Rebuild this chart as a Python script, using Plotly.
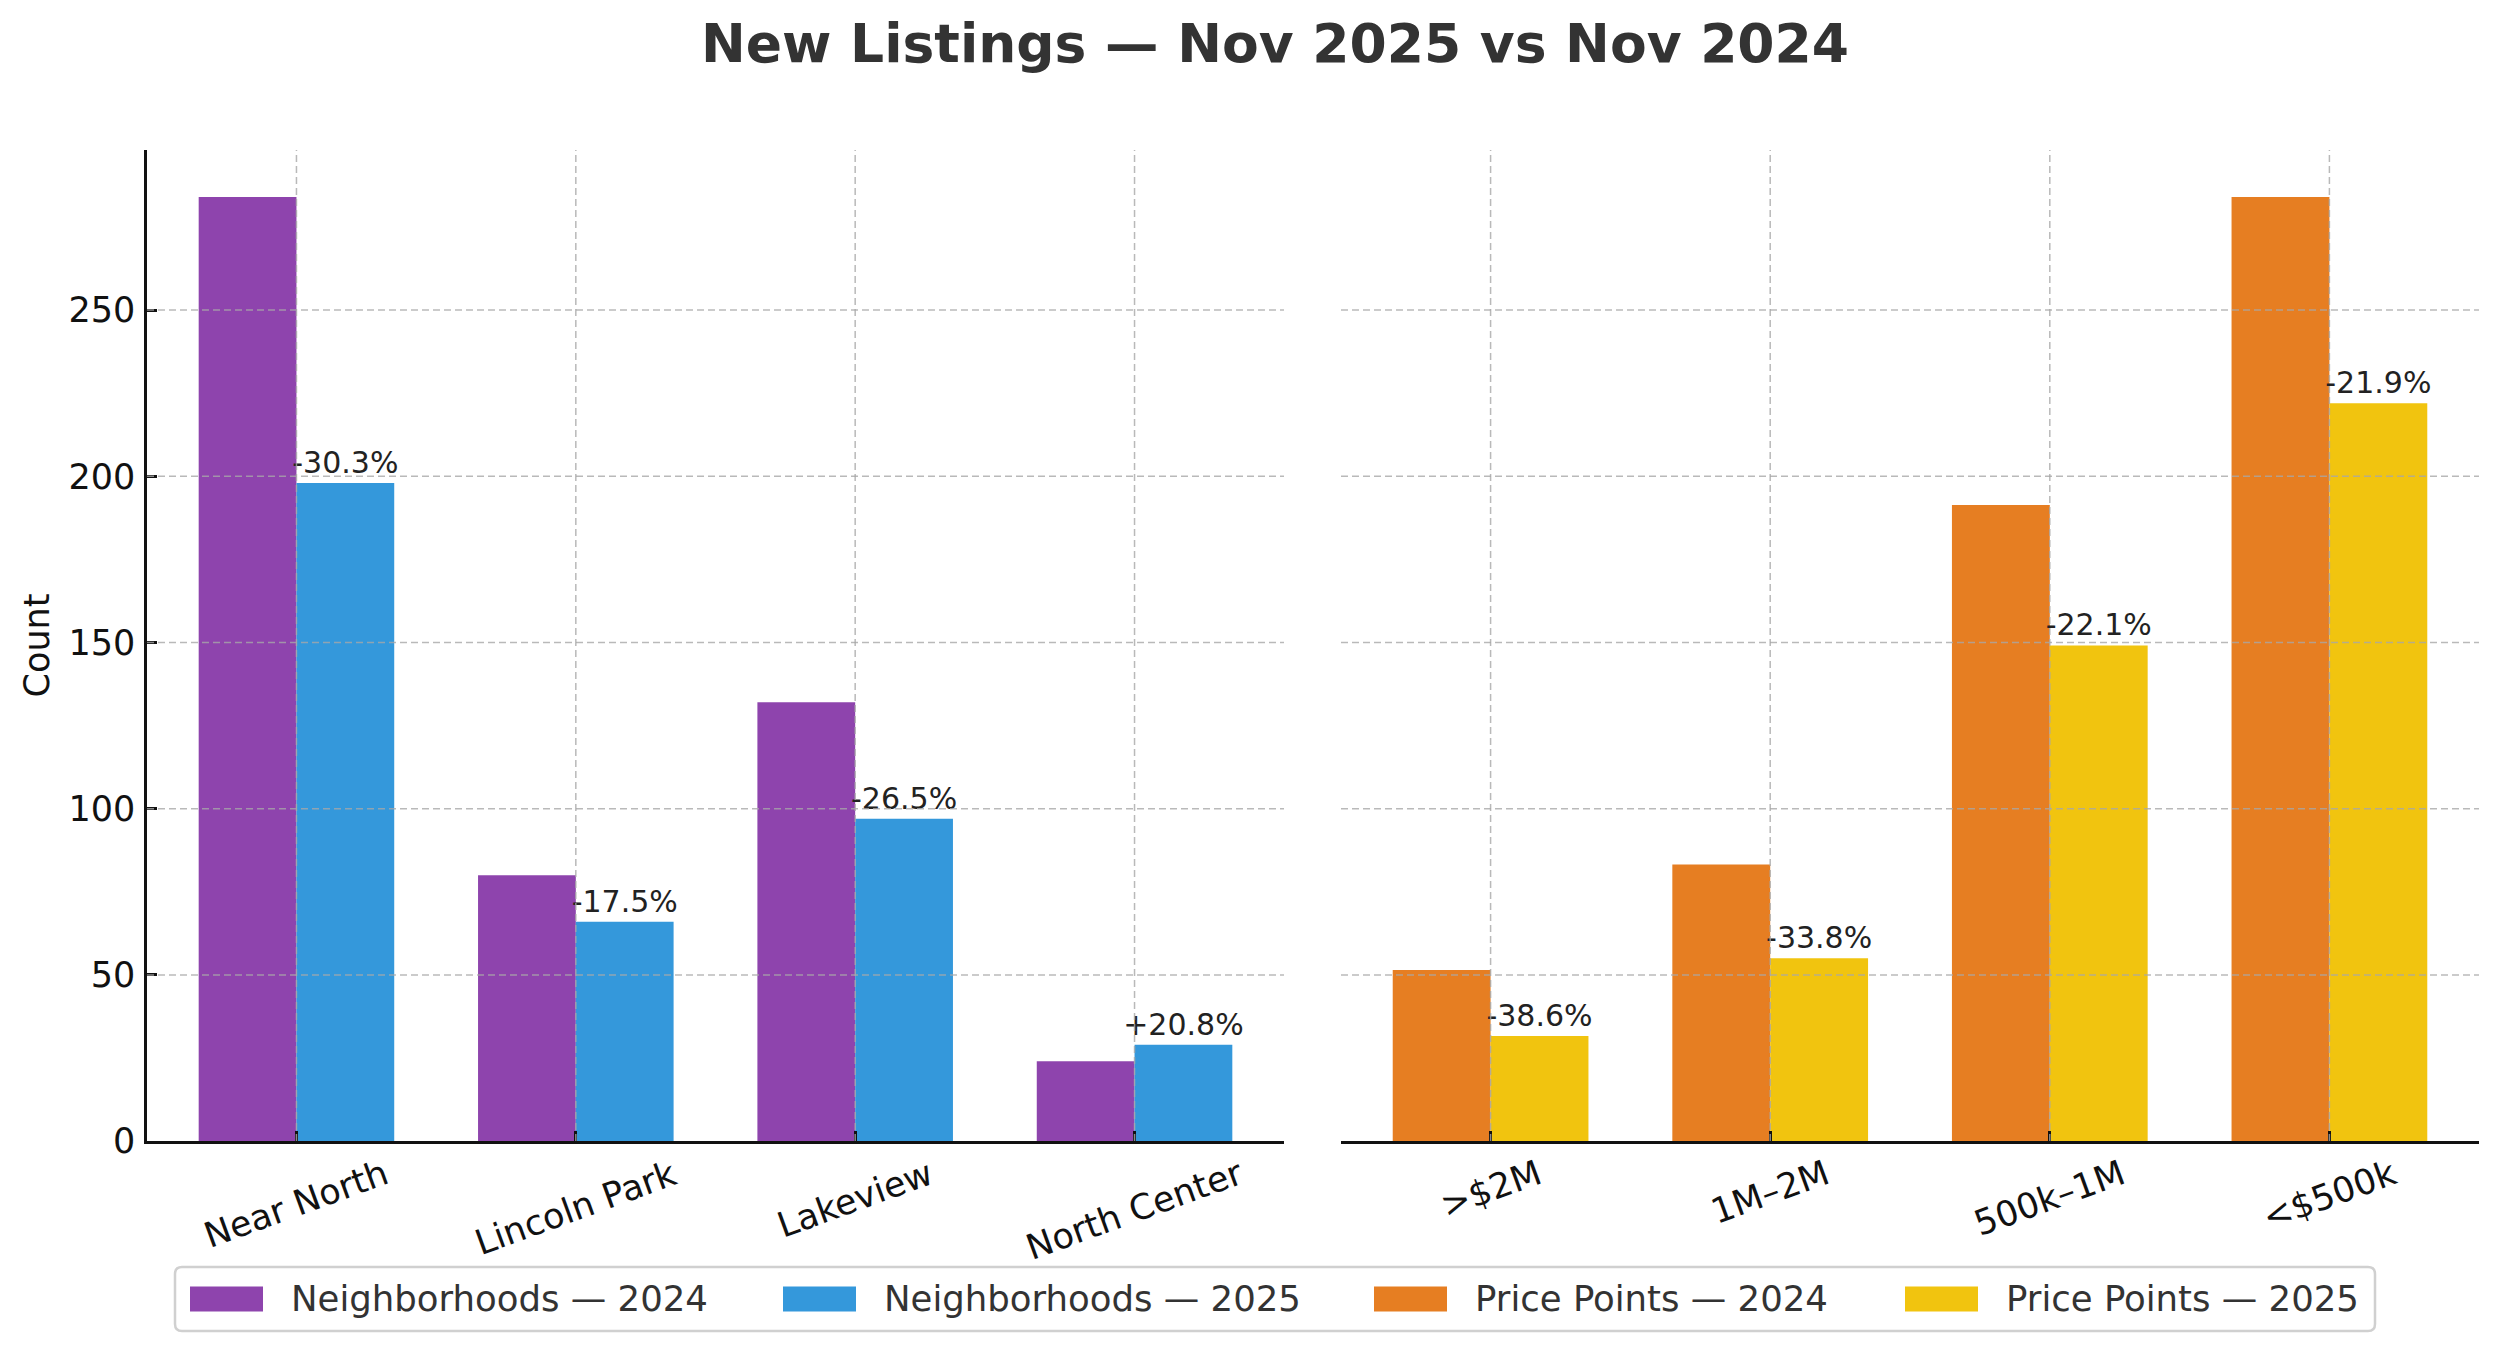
import plotly.graph_objects as go

# ---------------- data ----------------
neighborhoods = ["Near North", "Lincoln Park", "Lakeview", "North Center"]
nb_2024 = [284, 80, 132, 24]
nb_2025 = [198, 66, 97, 29]
nb_change = ["-30.3%", "-17.5%", "-26.5%", "+20.8%"]

price_points = [">$2M", "1M–2M", "500k–1M", "<$500k"]
pp_2024 = [51.5, 83.2, 191.4, 284]
pp_2025 = [31.6, 55.0, 149.1, 222]
pp_change = ["-38.6%", "-33.8%", "-22.1%", "-21.9%"]

y_ticks = [0, 50, 100, 150, 200, 250]
legend_names = ["Neighborhoods — 2024", "Neighborhoods — 2025",
                "Price Points — 2024", "Price Points — 2025"]
title_text = "New Listings — Nov 2025 vs Nov 2024"
y_title = "Count"

# ---------------- styles ----------------
C_PURPLE = "#8E44AD"
C_BLUE = "#3498DB"
C_ORANGE = "#E67E22"
C_YELLOW = "#F1C40F"
colors = [C_PURPLE, C_BLUE, C_ORANGE, C_YELLOW]
FONT = "DejaVu Sans"
OFFX = 8                     # page body margin of the browser
W, H = 2500 - 2 * OFFX, 1354
OFFY, SY = 9, 0.986          # observed vertical placement of the page in the photo
GRID = "rgba(168,168,168,0.8)"
TICK_SIZE = 35
LEG_SIZE = 35.5
PCT_SIZE = 30
LABEL_ANGLE = -20


def px2x(px):
    return (px - OFFX) / W


def px2y(py):
    return 1 - ((py - OFFY) / SY) / H


ymax = max(nb_2024 + nb_2025 + pp_2024 + pp_2025) * 1.05
xr = [-0.535, len(neighborhoods) - 1 + 0.535]

fig = go.Figure()

nx = list(range(len(neighborhoods)))
px_ = list(range(len(price_points)))

pct_font = dict(family=FONT, size=PCT_SIZE, color="#222222")
fig.add_trace(go.Bar(x=nx, y=nb_2024, marker_color=C_PURPLE, xaxis="x", yaxis="y",
                     name=legend_names[0], showlegend=False, marker_line_width=0))
fig.add_trace(go.Bar(x=nx, y=nb_2025, marker_color=C_BLUE, xaxis="x", yaxis="y",
                     name=legend_names[1], showlegend=False, marker_line_width=0,
                     text=nb_change, textposition="outside", constraintext="none",
                     cliponaxis=False, outsidetextfont=pct_font))
fig.add_trace(go.Bar(x=px_, y=pp_2024, marker_color=C_ORANGE, xaxis="x2", yaxis="y2",
                     name=legend_names[2], showlegend=False, marker_line_width=0))
fig.add_trace(go.Bar(x=px_, y=pp_2025, marker_color=C_YELLOW, xaxis="x2", yaxis="y2",
                     name=legend_names[3], showlegend=False, marker_line_width=0,
                     text=pp_change, textposition="outside", constraintext="none",
                     cliponaxis=False, outsidetextfont=pct_font))

ydom = [px2y(1143), px2y(151)]
xdom1 = [px2x(147), px2x(1284)]
xdom2 = [px2x(1341), px2x(2479)]

axis_common = dict(showgrid=False, zeroline=False, linecolor="#111111", linewidth=2.5,
                   ticks="inside", ticklen=10, tickwidth=2.5, tickcolor="#111111",
                   tickfont=dict(family=FONT, size=TICK_SIZE, color="#111111"))

fig.update_layout(
    width=W, height=H, autosize=False,
    margin=dict(l=0, r=0, t=0, b=0),
    paper_bgcolor="white", plot_bgcolor="white",
    barmode="group", bargap=0.3, bargroupgap=0,
    font=dict(family=FONT, color="#111111"),
    title=dict(text=title_text, x=px2x(1275), xanchor="center",
               y=px2y(44), yanchor="middle", yref="container",
               font=dict(family=FONT, size=53.5, color="#333333", weight="bold")),
    xaxis=dict(domain=xdom1, anchor="y", range=xr, tickvals=nx, showticklabels=False,
               showline=True, **axis_common),
    xaxis2=dict(domain=xdom2, anchor="y2", range=xr, tickvals=px_, showticklabels=False,
                showline=True, **axis_common),
    yaxis=dict(domain=ydom, anchor="x", range=[0, ymax], tickvals=y_ticks,
               showline=True, ticklabelstandoff=2,
               title=dict(text=y_title, standoff=9,
                          font=dict(family=FONT, size=TICK_SIZE, color="#111111")),
               **axis_common),
    yaxis2=dict(domain=ydom, anchor="x2", range=[0, ymax], matches="y", tickvals=y_ticks,
                showline=False, showticklabels=False, ticks="", showgrid=False,
                zeroline=False),
)

shapes = []
annotations = []

# gridlines drawn above bars (as in the reference)
for xa, ya, cats in (("x", "y", nx), ("x2", "y2", px_)):
    for v in y_ticks[1:]:
        shapes.append(dict(type="line", xref=f"{xa} domain", yref=ya, x0=0, x1=1, y0=v, y1=v,
                           line=dict(color=GRID, width=1.5, dash="7px,4px"), layer="above"))
    for c in cats:
        shapes.append(dict(type="line", xref=xa, yref=f"{ya} domain", x0=c, x1=c, y0=0, y1=1,
                           line=dict(color=GRID, width=1.5, dash="7px,4px"), layer="above"))

# rotated category labels centred under each tick
for xa, cats, labels in (("x", nx, neighborhoods), ("x2", px_, price_points)):
    for c, lab in zip(cats, labels):
        annotations.append(dict(x=c, xref=xa, y=px2y(1152), yref="paper", text=lab,
                                showarrow=False, textangle=LABEL_ANGLE, xanchor="center",
                                yanchor="top",
                                font=dict(family=FONT, size=TICK_SIZE, color="#111111")))

# legend box (rounded)
lx0, lx1, ly0, ly1 = 175, 2375, 1269, 1333
r = 7
path = (f"M{px2x(lx0 + r)},{px2y(ly0)} L{px2x(lx1 - r)},{px2y(ly0)} "
        f"Q{px2x(lx1)},{px2y(ly0)} {px2x(lx1)},{px2y(ly0 + r)} "
        f"L{px2x(lx1)},{px2y(ly1 - r)} Q{px2x(lx1)},{px2y(ly1)} {px2x(lx1 - r)},{px2y(ly1)} "
        f"L{px2x(lx0 + r)},{px2y(ly1)} Q{px2x(lx0)},{px2y(ly1)} {px2x(lx0)},{px2y(ly1 - r)} "
        f"L{px2x(lx0)},{px2y(ly0 + r)} Q{px2x(lx0)},{px2y(ly0)} {px2x(lx0 + r)},{px2y(ly0)} Z")
shapes.append(dict(type="path", xref="paper", yref="paper", path=path,
                   line=dict(color="#d0d0d0", width=2.5), fillcolor="rgba(255,255,255,0.8)",
                   layer="above"))

legend_item_px = [190, 783, 1374, 1905]
ly_mid = (ly0 + ly1) / 2
for xi, name, col in zip(legend_item_px, legend_names, colors):
    shapes.append(dict(type="rect", xref="paper", yref="paper",
                       x0=px2x(xi), x1=px2x(xi + 73), y0=px2y(ly_mid + 12.5),
                       y1=px2y(ly_mid - 12.5),
                       fillcolor=col, line=dict(width=0), layer="above"))
    annotations.append(dict(x=px2x(xi + 99), y=px2y(ly_mid), xref="paper", yref="paper",
                            text=name, showarrow=False, xanchor="left", yanchor="middle",
                            font=dict(family=FONT, size=LEG_SIZE, color="#333333")))

fig.update_layout(shapes=shapes, annotations=annotations)

fig.write_html("out.html")
